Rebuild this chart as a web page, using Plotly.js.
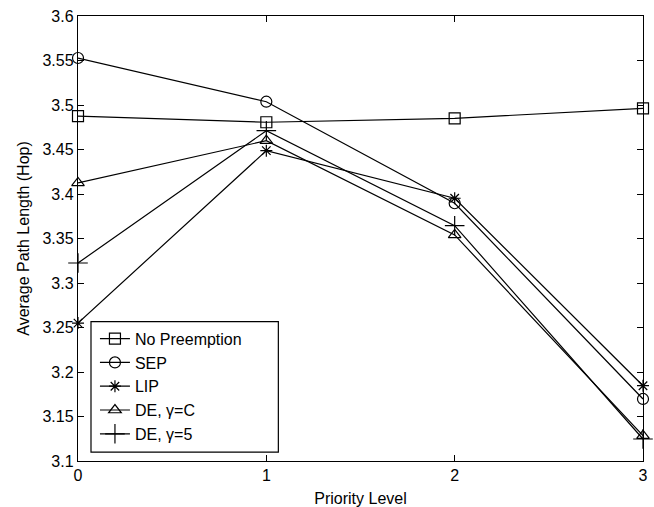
<!DOCTYPE html>
<html>
<head>
<meta charset="utf-8">
<script src="https://cdn.plot.ly/plotly-3.0.1.min.js"></script>
<style>html,body{margin:0;padding:0;background:#fff;}#chart{width:654px;height:507px;}</style>
</head>
<body>
<div id="chart"></div>
<script>
const priorityLevels = [0, 1, 2, 3];
const noPreemption = [3.4876, 3.4806, 3.4850, 3.4963];
const sep = [3.5528, 3.5037, 3.3896, 3.1697];
const lip = [3.2550, 3.4487, 3.3952, 3.1846];
const deGammaC = [3.4124, 3.4599, 3.3540, 3.1285];
const deGamma5 = [3.3225, 3.4711, 3.3644, 3.1247];
const seriesNames = ["No Preemption", "SEP", "LIP", "DE, \u03b3=C", "DE, \u03b3=5"];
const xTickVals = [0, 1, 2, 3];
const yTickVals = [3.1, 3.15, 3.2, 3.25, 3.3, 3.35, 3.4, 3.45, 3.5, 3.55, 3.6];
const yTickText = ["3.1", "3.15", "3.2", "3.25", "3.3", "3.35", "3.4", "3.45", "3.5", "3.55", "3.6"];

const seriesData = [noPreemption, sep, lip, deGammaC, deGamma5];
const symbols = ["square-open", "circle-open", "asterisk-open", "triangle-up-open", "cross-thin-open"];
const sizes = [11, 11, 10, 11, 14];

const traces = seriesData.map((ys, i) => ({
  x: priorityLevels,
  y: ys,
  name: seriesNames[i],
  legendgroup: "g" + i,
  type: "scatter",
  mode: "lines+markers",
  line: {color: "#000", width: 1.2},
  marker: {symbol: symbols[i], size: sizes[i], color: "#000", line: {color: "#000", width: 1.2}},
  cliponaxis: false
}));

const font = {family: "Liberation Sans, Arial, sans-serif", size: 16, color: "#000"};
const layout = {
  width: 654, height: 507,
  margin: {l: 78, r: 11, t: 16, b: 46},
  paper_bgcolor: "#fff", plot_bgcolor: "#fff",
  font: font,
  showlegend: true,
  legend: {
    x: 0.030, y: 0.313, xanchor: "left", yanchor: "top",
    borderwidth: 0, bgcolor: "rgba(0,0,0,0)",
    traceorder: "grouped", tracegroupgap: 0,
    font: font,
    itemwidth: 30
  },
  shapes: [{
    type: "rect", xref: "paper", yref: "paper",
    x0: 0.023, x1: 0.3546, y0: 0.020, y1: 0.313,
    line: {color: "#000", width: 1.2}, fillcolor: "#fff", layer: "above"
  }],
  xaxis: {
    range: [0, 3], tickvals: xTickVals, ticks: "inside", ticklen: 6, tickcolor: "#000",
    showline: true, linecolor: "#000", linewidth: 1.2, mirror: "ticks",
    showgrid: false, zeroline: false,
    title: {text: "Priority Level", font: font, standoff: 11},
    tickfont: font
  },
  yaxis: {
    range: [3.1, 3.6], tickvals: yTickVals, ticktext: yTickText, ticks: "inside", ticklen: 6, tickcolor: "#000",
    showline: true, linecolor: "#000", linewidth: 1.2, mirror: "ticks",
    showgrid: false, zeroline: false,
    title: {text: "Average Path Length (Hop)", font: font, standoff: 8},
    tickfont: font
  }
};

Plotly.newPlot("chart", traces, layout, {displayModeBar: false, staticPlot: true});
</script>
</body>
</html>
